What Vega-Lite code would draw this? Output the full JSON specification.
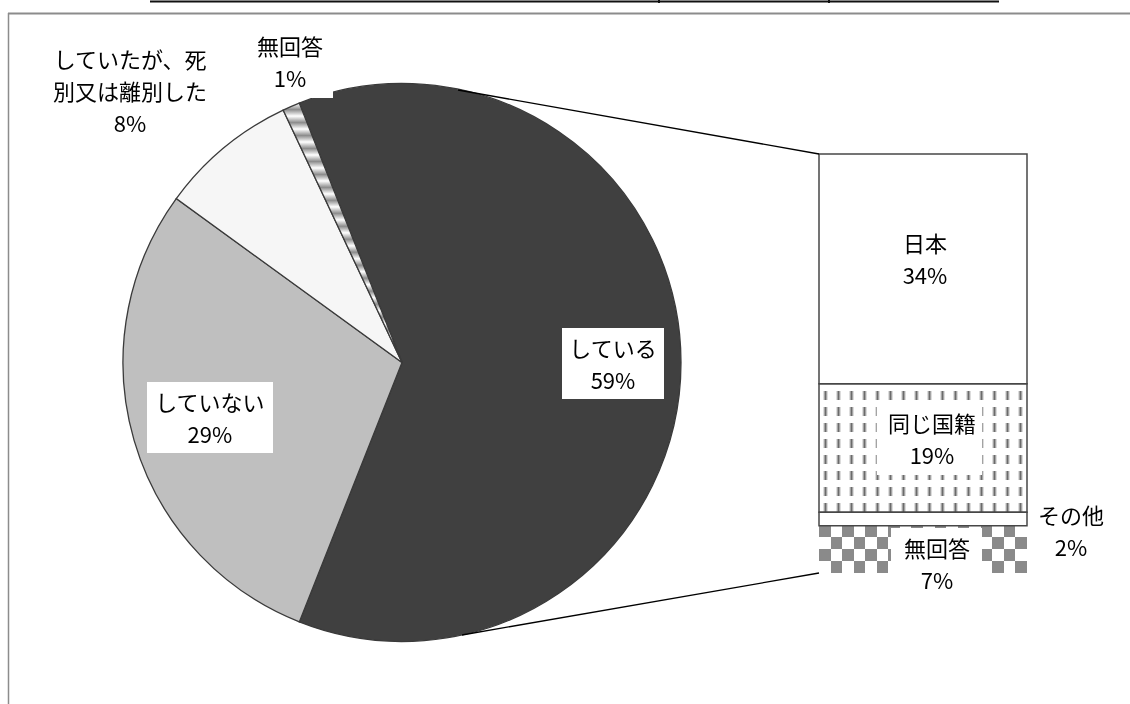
{
"$schema": "https://vega.github.io/schema/vega-lite/v6.json",
"width": 804,
"height": 681,
"autosize": {"type": "none"},
"padding": {"left": 0, "top": 22, "right": 326, "bottom": 1},
"background": "white",
"config": {"view": {"stroke": null}, "axis": {"disable": true}, "legend": {"disable": true}, "text": {"font": "Noto Sans CJK JP"}},
"datasets": {
 "pie": [
  {"order": 1, "label": "している", "share": 62, "pct": "59%", "caption": "している\n59%"},
  {"order": 2, "label": "していない", "share": 29, "pct": "29%", "caption": "していない\n29%"},
  {"order": 3, "label": "していたが、死別又は離別した", "share": 8, "pct": "8%", "caption": "していたが、死\n別又は離別した\n8%"},
  {"order": 4, "label": "無回答", "share": 1, "pct": "1%", "caption": "無回答\n1%"}
 ],
 "bar": [
  {"order": 1, "label": "無回答", "share": 7, "caption": "無回答\n7%"},
  {"order": 2, "label": "その他", "share": 2, "caption": "その他\n2%"},
  {"order": 3, "label": "同じ国籍", "share": 19, "caption": "同じ国籍\n19%"},
  {"order": 4, "label": "日本", "share": 34, "caption": "日本\n34%"}
 ],
 "one": [{}]
},
"resolve": {"scale": {"x": "independent", "y": "independent"}},
"layer": [
 {"data": {"name": "one"}, "mark": {"type": "rule", "color": "#8c8c8c", "strokeWidth": 1.5},
  "encoding": {"x": {"datum": 8.5, "type": "quantitative", "scale": {"domain": [0, 804], "nice": false, "zero": false}},
   "y": {"datum": 13, "type": "quantitative", "scale": {"domain": [22, 703], "reverse": true, "nice": false, "zero": false}}, "y2": {"datum": 710}}},
 {"data": {"name": "one"}, "mark": {"type": "rule", "color": "#8c8c8c", "strokeWidth": 1.8},
  "encoding": {"x": {"datum": 8, "type": "quantitative", "scale": {"domain": [0, 804], "nice": false, "zero": false}}, "x2": {"datum": 1140},
   "y": {"datum": 13.5, "type": "quantitative", "scale": {"domain": [22, 703], "reverse": true, "nice": false, "zero": false}}}},
 {"data": {"name": "one"}, "mark": {"type": "rule", "color": "#111111", "strokeWidth": 2.2},
  "encoding": {"x": {"datum": 150, "type": "quantitative", "scale": {"domain": [0, 804], "nice": false, "zero": false}}, "x2": {"datum": 999},
   "y": {"datum": 1.5, "type": "quantitative", "scale": {"domain": [22, 703], "reverse": true, "nice": false, "zero": false}}}},
 {"data": {"name": "one"}, "mark": {"type": "rule", "color": "#111111", "strokeWidth": 2},
  "encoding": {"x": {"datum": 659, "type": "quantitative", "scale": {"domain": [0, 804], "nice": false, "zero": false}},
   "y": {"datum": 0, "type": "quantitative", "scale": {"domain": [22, 703], "reverse": true, "nice": false, "zero": false}}, "y2": {"datum": 3}}},
 {"data": {"name": "one"}, "mark": {"type": "rule", "color": "#111111", "strokeWidth": 2},
  "encoding": {"x": {"datum": 829, "type": "quantitative", "scale": {"domain": [0, 804], "nice": false, "zero": false}},
   "y": {"datum": 0, "type": "quantitative", "scale": {"domain": [22, 703], "reverse": true, "nice": false, "zero": false}}, "y2": {"datum": 3}}},
 {"data": {"name": "pie"},
  "mark": {"type": "arc", "outerRadius": 279, "stroke": "#3a3a3a", "strokeWidth": 1.3},
  "encoding": {
   "theta": {"field": "share", "type": "quantitative", "stack": true, "scale": {"range": [-0.377, 5.906]}},
   "order": {"field": "order", "type": "quantitative"},
   "fill": {"condition": [
     {"test": "datum.order === 1", "value": "#404040"},
     {"test": "datum.order === 2", "value": "#bfbfbf"},
     {"test": "datum.order === 3", "value": "#f6f6f6"}
    ],
    "value": {"gradient": "linear", "x1": 0, "y1": 0, "x2": 0, "y2": 1, "stops": [
     {"offset": 0, "color": "#ffffff"}, {"offset": 0.025, "color": "#8c8c8c"}, {"offset": 0.05, "color": "#ffffff"}, {"offset": 0.075, "color": "#8c8c8c"},
     {"offset": 0.1, "color": "#ffffff"}, {"offset": 0.125, "color": "#8c8c8c"}, {"offset": 0.15, "color": "#ffffff"}, {"offset": 0.175, "color": "#8c8c8c"},
     {"offset": 0.2, "color": "#ffffff"}, {"offset": 0.225, "color": "#8c8c8c"}, {"offset": 0.25, "color": "#ffffff"}, {"offset": 0.275, "color": "#8c8c8c"},
     {"offset": 0.3, "color": "#ffffff"}, {"offset": 0.325, "color": "#8c8c8c"}, {"offset": 0.35, "color": "#ffffff"}, {"offset": 0.375, "color": "#8c8c8c"},
     {"offset": 0.4, "color": "#ffffff"}, {"offset": 0.425, "color": "#8c8c8c"}, {"offset": 0.45, "color": "#ffffff"}, {"offset": 0.475, "color": "#8c8c8c"},
     {"offset": 0.5, "color": "#ffffff"}, {"offset": 0.525, "color": "#8c8c8c"}, {"offset": 0.55, "color": "#ffffff"}, {"offset": 0.575, "color": "#8c8c8c"},
     {"offset": 0.6, "color": "#ffffff"}, {"offset": 0.625, "color": "#8c8c8c"}, {"offset": 0.65, "color": "#ffffff"}, {"offset": 0.675, "color": "#8c8c8c"},
     {"offset": 0.7, "color": "#ffffff"}, {"offset": 0.725, "color": "#8c8c8c"}, {"offset": 0.75, "color": "#ffffff"}, {"offset": 0.775, "color": "#8c8c8c"},
     {"offset": 0.8, "color": "#ffffff"}, {"offset": 0.825, "color": "#8c8c8c"}, {"offset": 0.85, "color": "#ffffff"}, {"offset": 0.875, "color": "#8c8c8c"},
     {"offset": 0.9, "color": "#ffffff"}, {"offset": 0.925, "color": "#8c8c8c"}, {"offset": 0.95, "color": "#ffffff"}, {"offset": 0.975, "color": "#8c8c8c"},
     {"offset": 1, "color": "#ffffff"}]}}
  }},
 {"data": {"name": "bar"},
  "transform": [{"stack": "share", "groupby": [], "sort": [{"field": "order"}], "as": ["v0", "v1"]}],
  "mark": {"type": "rect", "fill": "#ffffff"},
  "encoding": {"x": {"datum": 819, "type": "quantitative", "scale": {"domain": [0, 804], "nice": false, "zero": false}}, "x2": {"datum": 1027},
   "y": {"field": "v1", "type": "quantitative", "scale": {"domain": [-19.24, 81.53], "nice": false, "zero": false}}, "y2": {"field": "v0"}}},
 {"data": {"name": "bar"},
  "transform": [{"stack": "share", "groupby": [], "sort": [{"field": "order"}], "as": ["v0", "v1"]}, {"filter": "datum.label === '同じ国籍'"}],
  "mark": {"type": "rect", "fill": {"gradient": "linear", "x1": 0, "y1": 0, "x2": 1, "y2": 0, "stops": [
    {"offset": 0, "color": "#ffffff"},
    {"offset": 0.0188, "color": "#ffffff"}, {"offset": 0.0313, "color": "#6a6a6a"}, {"offset": 0.0438, "color": "#ffffff"},
    {"offset": 0.0813, "color": "#ffffff"}, {"offset": 0.0938, "color": "#6a6a6a"}, {"offset": 0.1063, "color": "#ffffff"},
    {"offset": 0.1438, "color": "#ffffff"}, {"offset": 0.1563, "color": "#6a6a6a"}, {"offset": 0.1688, "color": "#ffffff"},
    {"offset": 0.2063, "color": "#ffffff"}, {"offset": 0.2188, "color": "#6a6a6a"}, {"offset": 0.2313, "color": "#ffffff"},
    {"offset": 0.2688, "color": "#ffffff"}, {"offset": 0.2813, "color": "#6a6a6a"}, {"offset": 0.2938, "color": "#ffffff"},
    {"offset": 0.3313, "color": "#ffffff"}, {"offset": 0.3438, "color": "#6a6a6a"}, {"offset": 0.3563, "color": "#ffffff"},
    {"offset": 0.3938, "color": "#ffffff"}, {"offset": 0.4063, "color": "#6a6a6a"}, {"offset": 0.4188, "color": "#ffffff"},
    {"offset": 0.4563, "color": "#ffffff"}, {"offset": 0.4688, "color": "#6a6a6a"}, {"offset": 0.4813, "color": "#ffffff"},
    {"offset": 0.5188, "color": "#ffffff"}, {"offset": 0.5313, "color": "#6a6a6a"}, {"offset": 0.5438, "color": "#ffffff"},
    {"offset": 0.5813, "color": "#ffffff"}, {"offset": 0.5938, "color": "#6a6a6a"}, {"offset": 0.6063, "color": "#ffffff"},
    {"offset": 0.6438, "color": "#ffffff"}, {"offset": 0.6563, "color": "#6a6a6a"}, {"offset": 0.6688, "color": "#ffffff"},
    {"offset": 0.7063, "color": "#ffffff"}, {"offset": 0.7188, "color": "#6a6a6a"}, {"offset": 0.7313, "color": "#ffffff"},
    {"offset": 0.7688, "color": "#ffffff"}, {"offset": 0.7813, "color": "#6a6a6a"}, {"offset": 0.7938, "color": "#ffffff"},
    {"offset": 0.8313, "color": "#ffffff"}, {"offset": 0.8438, "color": "#6a6a6a"}, {"offset": 0.8563, "color": "#ffffff"},
    {"offset": 0.8938, "color": "#ffffff"}, {"offset": 0.9063, "color": "#6a6a6a"}, {"offset": 0.9188, "color": "#ffffff"},
    {"offset": 0.9563, "color": "#ffffff"}, {"offset": 0.9688, "color": "#6a6a6a"}, {"offset": 0.9813, "color": "#ffffff"},
    {"offset": 1, "color": "#ffffff"}]}},
  "encoding": {"x": {"datum": 819, "type": "quantitative", "scale": {"domain": [0, 804], "nice": false, "zero": false}}, "x2": {"datum": 1027},
   "y": {"field": "v1", "type": "quantitative", "scale": {"domain": [-19.24, 81.53], "nice": false, "zero": false}}, "y2": {"field": "v0"}}},
 {"data": {"name": "bar"},
  "transform": [{"stack": "share", "groupby": [], "sort": [{"field": "order"}], "as": ["v0", "v1"]}, {"filter": "datum.label === '同じ国籍'"}],
  "mark": {"type": "rect", "fill": {"gradient": "linear", "x1": 0, "y1": 0, "x2": 0, "y2": 1, "stops": [
    {"offset": 0, "color": "#ffffff"}, {"offset": 0.0563, "color": "#ffffff"}, {"offset": 0.0563, "color": "rgba(255,255,255,0)"}, {"offset": 0.125, "color": "rgba(255,255,255,0)"},
    {"offset": 0.125, "color": "#ffffff"}, {"offset": 0.1813, "color": "#ffffff"}, {"offset": 0.1813, "color": "rgba(255,255,255,0)"}, {"offset": 0.25, "color": "rgba(255,255,255,0)"},
    {"offset": 0.25, "color": "#ffffff"}, {"offset": 0.3063, "color": "#ffffff"}, {"offset": 0.3063, "color": "rgba(255,255,255,0)"}, {"offset": 0.375, "color": "rgba(255,255,255,0)"},
    {"offset": 0.375, "color": "#ffffff"}, {"offset": 0.4313, "color": "#ffffff"}, {"offset": 0.4313, "color": "rgba(255,255,255,0)"}, {"offset": 0.5, "color": "rgba(255,255,255,0)"},
    {"offset": 0.5, "color": "#ffffff"}, {"offset": 0.5563, "color": "#ffffff"}, {"offset": 0.5563, "color": "rgba(255,255,255,0)"}, {"offset": 0.625, "color": "rgba(255,255,255,0)"},
    {"offset": 0.625, "color": "#ffffff"}, {"offset": 0.6813, "color": "#ffffff"}, {"offset": 0.6813, "color": "rgba(255,255,255,0)"}, {"offset": 0.75, "color": "rgba(255,255,255,0)"},
    {"offset": 0.75, "color": "#ffffff"}, {"offset": 0.8063, "color": "#ffffff"}, {"offset": 0.8063, "color": "rgba(255,255,255,0)"}, {"offset": 0.875, "color": "rgba(255,255,255,0)"},
    {"offset": 0.875, "color": "#ffffff"}, {"offset": 0.9313, "color": "#ffffff"}, {"offset": 0.9313, "color": "rgba(255,255,255,0)"}, {"offset": 1, "color": "rgba(255,255,255,0)"}]}},
  "encoding": {"x": {"datum": 819, "type": "quantitative", "scale": {"domain": [0, 804], "nice": false, "zero": false}}, "x2": {"datum": 1027},
   "y": {"field": "v1", "type": "quantitative", "scale": {"domain": [-19.24, 81.53], "nice": false, "zero": false}}, "y2": {"field": "v0"}}},
 {"data": {"name": "bar"},
  "transform": [{"stack": "share", "groupby": [], "sort": [{"field": "order"}], "as": ["v0", "v1"]}, {"filter": "datum.label === '無回答'"}],
  "mark": {"type": "rect", "fill": {"gradient": "linear", "x1": 0, "y1": 0, "x2": 1, "y2": 0, "stops": [
    {"offset": 0, "color": "#000000"}, {"offset": 0.0556, "color": "#000000"}, {"offset": 0.0556, "color": "#ffffff"}, {"offset": 0.1111, "color": "#ffffff"},
    {"offset": 0.1111, "color": "#000000"}, {"offset": 0.1667, "color": "#000000"}, {"offset": 0.1667, "color": "#ffffff"}, {"offset": 0.2222, "color": "#ffffff"},
    {"offset": 0.2222, "color": "#000000"}, {"offset": 0.2778, "color": "#000000"}, {"offset": 0.2778, "color": "#ffffff"}, {"offset": 0.3333, "color": "#ffffff"},
    {"offset": 0.3333, "color": "#000000"}, {"offset": 0.3889, "color": "#000000"}, {"offset": 0.3889, "color": "#ffffff"}, {"offset": 0.4444, "color": "#ffffff"},
    {"offset": 0.4444, "color": "#000000"}, {"offset": 0.5, "color": "#000000"}, {"offset": 0.5, "color": "#ffffff"}, {"offset": 0.5556, "color": "#ffffff"},
    {"offset": 0.5556, "color": "#000000"}, {"offset": 0.6111, "color": "#000000"}, {"offset": 0.6111, "color": "#ffffff"}, {"offset": 0.6667, "color": "#ffffff"},
    {"offset": 0.6667, "color": "#000000"}, {"offset": 0.7222, "color": "#000000"}, {"offset": 0.7222, "color": "#ffffff"}, {"offset": 0.7778, "color": "#ffffff"},
    {"offset": 0.7778, "color": "#000000"}, {"offset": 0.8333, "color": "#000000"}, {"offset": 0.8333, "color": "#ffffff"}, {"offset": 0.8889, "color": "#ffffff"},
    {"offset": 0.8889, "color": "#000000"}, {"offset": 0.9444, "color": "#000000"}, {"offset": 0.9444, "color": "#ffffff"}, {"offset": 1, "color": "#ffffff"}]}},
  "encoding": {"x": {"datum": 819, "type": "quantitative", "scale": {"domain": [0, 804], "nice": false, "zero": false}}, "x2": {"datum": 1027},
   "y": {"field": "v1", "type": "quantitative", "scale": {"domain": [-19.24, 81.53], "nice": false, "zero": false}}, "y2": {"field": "v0"}}},
 {"data": {"name": "bar"},
  "transform": [{"stack": "share", "groupby": [], "sort": [{"field": "order"}], "as": ["v0", "v1"]}, {"filter": "datum.label === '無回答'"}],
  "mark": {"type": "rect", "blend": "difference", "fill": {"gradient": "linear", "x1": 0, "y1": 0, "x2": 0, "y2": 1, "stops": [
    {"offset": 0, "color": "#000000"}, {"offset": 0.25, "color": "#000000"}, {"offset": 0.25, "color": "#ffffff"}, {"offset": 0.5, "color": "#ffffff"},
    {"offset": 0.5, "color": "#000000"}, {"offset": 0.75, "color": "#000000"}, {"offset": 0.75, "color": "#ffffff"}, {"offset": 1, "color": "#ffffff"}]}},
  "encoding": {"x": {"datum": 819, "type": "quantitative", "scale": {"domain": [0, 804], "nice": false, "zero": false}}, "x2": {"datum": 1027},
   "y": {"field": "v1", "type": "quantitative", "scale": {"domain": [-19.24, 81.53], "nice": false, "zero": false}}, "y2": {"field": "v0"}}},
 {"data": {"name": "bar"},
  "transform": [{"stack": "share", "groupby": [], "sort": [{"field": "order"}], "as": ["v0", "v1"]}, {"filter": "datum.label === '無回答'"}],
  "mark": {"type": "rect", "fill": "#ffffff", "opacity": 0.54},
  "encoding": {"x": {"datum": 819, "type": "quantitative", "scale": {"domain": [0, 804], "nice": false, "zero": false}}, "x2": {"datum": 1027},
   "y": {"field": "v1", "type": "quantitative", "scale": {"domain": [-19.24, 81.53], "nice": false, "zero": false}}, "y2": {"field": "v0"}}},
 {"data": {"name": "bar"},
  "transform": [{"stack": "share", "groupby": [], "sort": [{"field": "order"}], "as": ["v0", "v1"]}, {"filter": "datum.label !== '無回答'"}],
  "mark": {"type": "rect", "fill": "transparent", "stroke": "#474747", "strokeWidth": 1.5},
  "encoding": {"x": {"datum": 819, "type": "quantitative", "scale": {"domain": [0, 804], "nice": false, "zero": false}}, "x2": {"datum": 1027},
   "y": {"field": "v1", "type": "quantitative", "scale": {"domain": [-19.24, 81.53], "nice": false, "zero": false}}, "y2": {"field": "v0"}}},
 {"data": {"name": "one"}, "mark": {"type": "rule", "color": "#000000", "strokeWidth": 1.3},
  "encoding": {"x": {"datum": 458, "type": "quantitative", "scale": {"domain": [0, 804], "nice": false, "zero": false}}, "x2": {"datum": 819},
   "y": {"datum": 90, "type": "quantitative", "scale": {"domain": [22, 703], "reverse": true, "nice": false, "zero": false}}, "y2": {"datum": 154}}},
 {"data": {"name": "one"}, "mark": {"type": "rule", "color": "#000000", "strokeWidth": 1.3},
  "encoding": {"x": {"datum": 462, "type": "quantitative", "scale": {"domain": [0, 804], "nice": false, "zero": false}}, "x2": {"datum": 819},
   "y": {"datum": 635, "type": "quantitative", "scale": {"domain": [22, 703], "reverse": true, "nice": false, "zero": false}}, "y2": {"datum": 573}}},
 {"data": {"name": "one"}, "mark": {"type": "rect", "fill": "#ffffff"},
  "encoding": {"x": {"datum": 562, "type": "quantitative", "scale": {"domain": [0, 804], "nice": false, "zero": false}}, "x2": {"datum": 664},
   "y": {"datum": 328, "type": "quantitative", "scale": {"domain": [22, 703], "reverse": true, "nice": false, "zero": false}}, "y2": {"datum": 399}}},
 {"data": {"name": "one"}, "mark": {"type": "rect", "fill": "#ffffff"},
  "encoding": {"x": {"datum": 147, "type": "quantitative", "scale": {"domain": [0, 804], "nice": false, "zero": false}}, "x2": {"datum": 273},
   "y": {"datum": 382, "type": "quantitative", "scale": {"domain": [22, 703], "reverse": true, "nice": false, "zero": false}}, "y2": {"datum": 453}}},
 {"data": {"name": "one"}, "mark": {"type": "rect", "fill": "#ffffff"},
  "encoding": {"x": {"datum": 877, "type": "quantitative", "scale": {"domain": [0, 804], "nice": false, "zero": false}}, "x2": {"datum": 982},
   "y": {"datum": 403, "type": "quantitative", "scale": {"domain": [22, 703], "reverse": true, "nice": false, "zero": false}}, "y2": {"datum": 475}}},
 {"data": {"name": "one"}, "mark": {"type": "rect", "fill": "#ffffff"},
  "encoding": {"x": {"datum": 891, "type": "quantitative", "scale": {"domain": [0, 804], "nice": false, "zero": false}}, "x2": {"datum": 982},
   "y": {"datum": 528, "type": "quantitative", "scale": {"domain": [22, 703], "reverse": true, "nice": false, "zero": false}}, "y2": {"datum": 598}}},
 {"data": {"name": "one"}, "mark": {"type": "rect", "fill": "#ffffff"},
  "encoding": {"x": {"datum": 255, "type": "quantitative", "scale": {"domain": [0, 804], "nice": false, "zero": false}}, "x2": {"datum": 333},
   "y": {"datum": 30, "type": "quantitative", "scale": {"domain": [22, 703], "reverse": true, "nice": false, "zero": false}}, "y2": {"datum": 98}}},
 {"data": {"name": "pie"},
  "mark": {"type": "text", "radius": 211, "dy": -12, "fontSize": 22, "lineHeight": 32, "lineBreak": "\n", "font": "Noto Sans CJK JP", "color": "#000000", "align": "center", "baseline": "middle"},
  "encoding": {"theta": {"field": "share", "type": "quantitative", "stack": true, "scale": {"range": [-0.377, 5.906]}}, "order": {"field": "order", "type": "quantitative"},
   "text": {"condition": {"test": "datum.order === 1", "field": "caption", "type": "nominal"}, "value": ""}}},
 {"data": {"name": "pie"},
  "mark": {"type": "text", "radius": 200, "dy": -14, "fontSize": 22, "lineHeight": 32, "lineBreak": "\n", "font": "Noto Sans CJK JP", "color": "#000000", "align": "center", "baseline": "middle"},
  "encoding": {"theta": {"field": "share", "type": "quantitative", "stack": true, "scale": {"range": [-0.377, 5.906]}}, "order": {"field": "order", "type": "quantitative"},
   "text": {"condition": {"test": "datum.order === 2", "field": "caption", "type": "nominal"}, "value": ""}}},
 {"data": {"name": "pie"},
  "mark": {"type": "text", "radius": 370, "dx": -36, "dy": -16, "fontSize": 22, "lineHeight": 32, "lineBreak": "\n", "font": "Noto Sans CJK JP", "color": "#000000", "align": "center", "baseline": "middle"},
  "encoding": {"theta": {"field": "share", "type": "quantitative", "stack": true, "scale": {"range": [-0.377, 5.906]}}, "order": {"field": "order", "type": "quantitative"},
   "text": {"condition": {"test": "datum.order === 3", "field": "caption", "type": "nominal"}, "value": ""}}},
 {"data": {"name": "pie"},
  "mark": {"type": "text", "radius": 322, "dx": 16, "dy": -19, "fontSize": 22, "lineHeight": 32, "lineBreak": "\n", "font": "Noto Sans CJK JP", "color": "#000000", "align": "center", "baseline": "middle"},
  "encoding": {"theta": {"field": "share", "type": "quantitative", "stack": true, "scale": {"range": [-0.377, 5.906]}}, "order": {"field": "order", "type": "quantitative"},
   "text": {"condition": {"test": "datum.order === 4", "field": "caption", "type": "nominal"}, "value": ""}}},
 {"data": {"name": "bar"},
  "transform": [{"stack": "share", "groupby": [], "sort": [{"field": "order"}], "as": ["v0", "v1"]}, {"filter": "datum.label === '日本'"}],
  "mark": {"type": "text", "dx": 2, "dy": 91, "fontSize": 22, "lineHeight": 32, "lineBreak": "\n", "font": "Noto Sans CJK JP", "color": "#000000", "align": "center", "baseline": "middle"},
  "encoding": {"x": {"datum": 923, "type": "quantitative", "scale": {"domain": [0, 804], "nice": false, "zero": false}},
   "y": {"field": "v1", "type": "quantitative", "scale": {"domain": [-19.24, 81.53], "nice": false, "zero": false}}, "text": {"field": "caption", "type": "nominal"}}},
 {"data": {"name": "bar"},
  "transform": [{"stack": "share", "groupby": [], "sort": [{"field": "order"}], "as": ["v0", "v1"]}, {"filter": "datum.label === '同じ国籍'"}],
  "mark": {"type": "text", "dx": 9, "dy": 41, "fontSize": 22, "lineHeight": 32, "lineBreak": "\n", "font": "Noto Sans CJK JP", "color": "#000000", "align": "center", "baseline": "middle"},
  "encoding": {"x": {"datum": 923, "type": "quantitative", "scale": {"domain": [0, 804], "nice": false, "zero": false}},
   "y": {"field": "v1", "type": "quantitative", "scale": {"domain": [-19.24, 81.53], "nice": false, "zero": false}}, "text": {"field": "caption", "type": "nominal"}}},
 {"data": {"name": "bar"},
  "transform": [{"stack": "share", "groupby": [], "sort": [{"field": "order"}], "as": ["v0", "v1"]}, {"filter": "datum.label === 'その他'"}],
  "mark": {"type": "text", "dx": 148, "dy": 5, "fontSize": 22, "lineHeight": 32, "lineBreak": "\n", "font": "Noto Sans CJK JP", "color": "#000000", "align": "center", "baseline": "middle"},
  "encoding": {"x": {"datum": 923, "type": "quantitative", "scale": {"domain": [0, 804], "nice": false, "zero": false}},
   "y": {"field": "v1", "type": "quantitative", "scale": {"domain": [-19.24, 81.53], "nice": false, "zero": false}}, "text": {"field": "caption", "type": "nominal"}}},
 {"data": {"name": "bar"},
  "transform": [{"stack": "share", "groupby": [], "sort": [{"field": "order"}], "as": ["v0", "v1"]}, {"filter": "datum.label === '無回答'"}],
  "mark": {"type": "text", "dx": 14, "dy": 24, "fontSize": 22, "lineHeight": 32, "lineBreak": "\n", "font": "Noto Sans CJK JP", "color": "#000000", "align": "center", "baseline": "middle"},
  "encoding": {"x": {"datum": 923, "type": "quantitative", "scale": {"domain": [0, 804], "nice": false, "zero": false}},
   "y": {"field": "v1", "type": "quantitative", "scale": {"domain": [-19.24, 81.53], "nice": false, "zero": false}}, "text": {"field": "caption", "type": "nominal"}}}
]
}
